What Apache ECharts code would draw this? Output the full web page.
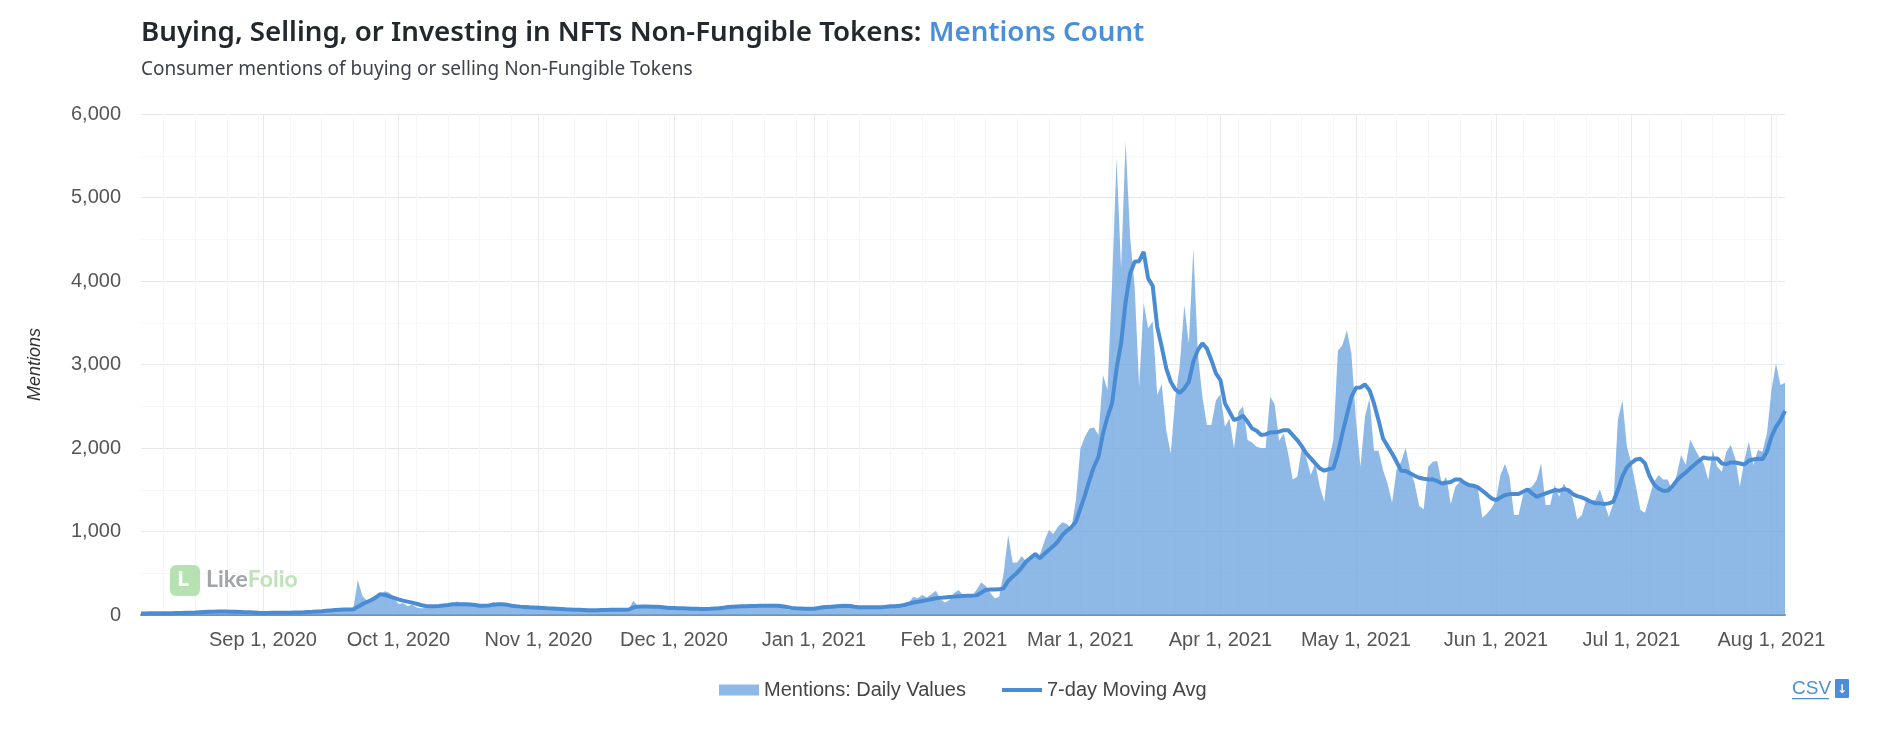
<!DOCTYPE html>
<html>
<head>
<meta charset="utf-8">
<style>html,body{margin:0;padding:0;background:#fff}#c{width:1879px;height:748px}</style>
<script src="https://cdn.jsdelivr.net/npm/echarts@6/dist/echarts.min.js"></script>
</head>
<body>
<div id="c"></div>
<script>
const startDate = [2020, 7, 5];
const yTicks = [0, 1000, 2000, 3000, 4000, 5000, 6000];
const monthTicks = [[2020,8],[2020,9],[2020,10],[2020,11],[2021,0],[2021,1],[2021,2],[2021,3],[2021,4],[2021,5],[2021,6],[2021,7]];
const monthNames = ['Jan','Feb','Mar','Apr','May','Jun','Jul','Aug','Sep','Oct','Nov','Dec'];

const dailyAug20 = [18,20,22,24,22,20,21,23,25,28,30,32,35,42,45,40,42,44,40,38,36,34,30,28,25,24,22];
const dailySep20 = [22,24,25,26,28,30,30,32,35,38,42,48,55,60,62,70,65,68,70,66,72,420,230,175,165,200,245,285,265,210];
const dailyOct20 = [130,145,105,125,90,80,85,90,100,110,130,120,135,165,125,120,115,115,95,100,120,155,125,120,115,105,85,75,85,90,85];
const dailyNov20 = [85,80,78,80,78,72,70,68,66,65,64,60,58,60,62,64,62,60,62,65,70,170,110,105,100,95,85,75,80,78];
const dailyDec20 = [80,78,72,70,64,72,75,78,80,78,82,88,100,105,108,106,110,112,115,118,116,114,110,112,100,70,60,65,72,78,80];
const dailyJan21 = [76,85,110,115,112,110,112,120,115,80,75,82,85,88,90,95,100,110,110,120,130,150,220,200,240,210,250,290,190,150,180];
const dailyFeb21 = [260,300,240,240,230,300,390,350,270,200,220,500,958,630,630,706,640,660,746,720,880,1017,970,1057,1110,1090,1040,1376];
const dailyMar21 = [1995,2135,2234,2246,2155,2873,2693,3970,5466,4150,5678,4530,3930,2733,3739,3431,3519,2633,2765,2214,1935,2600,2990,3710,3252,4389,3132,2613,2274,2274,2573];
const dailyApr21 = [2645,2254,2354,1995,2434,2500,2095,2067,2015,2000,2000,2613,2525,2087,2175,1935,1624,1656,1995,1887,1676,1815,1536,1357,1855,2095,3164,3232,3411,3132];
const dailyMay21 = [2334,1776,2374,2593,1967,1967,1736,1576,1345,1736,1835,2003,1736,1576,1305,1265,1776,1835,1843,1576,1656,1329,1536,1596,1576,1556,1544,1516,1165,1217,1277];
const dailyJun21 = [1377,1676,1807,1656,1197,1197,1436,1516,1536,1616,1815,1317,1317,1556,1416,1576,1496,1397,1145,1197,1377,1357,1376,1504,1337,1177,1337,2334,2573,2015];
const dailyJul21 = [1815,1536,1257,1225,1416,1596,1676,1624,1624,1496,1676,1915,1796,2103,1995,1895,1815,1616,1975,1776,1716,1955,2035,1875,1536,1855,2075,1796,1975,1955,2175];
const dailyAug21 = [2693,3012,2753,2781];

const avgAug20 = [18,19,20,21,21,21,21,22,23,24,26,28,30,33,36,38,40,41,41,41,40,38,36,34,32,30,27];
const avgSep20 = [25,25,26,26,27,28,28,29,30,32,35,38,42,45,50,55,60,64,66,67,70,100,130,155,180,210,250,240,222,205];
const avgOct20 = [187,172,160,148,135,120,108,105,105,108,115,120,128,130,130,128,126,120,112,110,115,122,128,128,122,112,105,100,96,92,90];
const avgNov20 = [88,84,80,78,75,72,68,66,64,62,60,58,58,58,60,60,62,62,62,64,66,90,100,102,102,100,98,95,90,85];
const avgDec20 = [85,82,80,78,75,74,72,72,74,78,80,86,95,100,102,104,106,108,109,110,111,112,112,112,105,95,85,80,78,76,76];
const avgJan21 = [76,84,92,96,100,104,108,112,108,98,94,92,92,92,92,94,98,105,106,112,120,135,150,158,168,178,188,200,205,210,215];
const avgFeb21 = [220,225,228,230,232,235,265,300,305,305,307,320,407,459,507,567,640,686,730,678,730,778,826,878,958,1010,1050,1117];
const avgMar21 = [1277,1436,1616,1776,1895,2174,2374,2534,2953,3252,3751,4090,4230,4237,4349,4030,3942,3451,3212,2953,2793,2701,2661,2713,2793,3032,3172,3252,3192,3052,2893];
const avgApr21 = [2813,2534,2434,2334,2354,2386,2314,2234,2206,2155,2163,2186,2190,2195,2214,2214,2155,2095,2023,1935,1875,1815,1756,1728,1748,1756,1935,2175,2394,2613];
const avgMay21 = [2721,2725,2761,2693,2534,2334,2115,2023,1935,1835,1728,1724,1696,1668,1644,1632,1624,1624,1604,1576,1584,1592,1624,1624,1584,1556,1548,1528,1488,1444,1397];
const avgJun21 = [1377,1408,1436,1448,1448,1448,1476,1504,1456,1416,1436,1456,1476,1496,1488,1508,1496,1448,1424,1408,1385,1357,1337,1337,1329,1337,1357,1496,1664,1768];
const avgJul21 = [1823,1863,1871,1815,1664,1564,1516,1488,1488,1536,1608,1664,1704,1756,1803,1847,1887,1875,1875,1875,1815,1807,1827,1827,1815,1803,1847,1863,1871,1867,1955];
const avgAug21 = [2135,2254,2334,2446];

const dailyValues = [].concat(dailyAug20,dailySep20,dailyOct20,dailyNov20,dailyDec20,dailyJan21,dailyFeb21,dailyMar21,dailyApr21,dailyMay21,dailyJun21,dailyJul21,dailyAug21);
const avgValues = [].concat(avgAug20,avgSep20,avgOct20,avgNov20,avgDec20,avgJan21,avgFeb21,avgMar21,avgApr21,avgMay21,avgJun21,avgJul21,avgAug21);

const dayTime = i => new Date(startDate[0], startDate[1], startDate[2] + i).getTime();
const monthValues = monthTicks.map(m => new Date(m[0], m[1], 1).getTime());
const weekValues = [];
for (let i = 5; i < dailyValues.length; i += 7) weekValues.push(dayTime(i));

const AXIS_FONT = '"Liberation Sans", Arial, sans-serif';
const TITLE_FONT = '"Noto Sans", Lato, sans-serif';
const xMin = dayTime(0), xMax = dayTime(dailyValues.length - 1);

const chart = echarts.init(document.getElementById('c'), null, {renderer:'canvas'});
chart.setOption({
  animation: false,
  backgroundColor: '#fff',
  title: [{
    left: 141, top: 19, padding: 0,
    text: '{a|Buying, Selling, or Investing in NFTs Non-Fungible Tokens: }{b|Mentions Count}',
    textStyle: { rich: {
      a: {fontFamily: TITLE_FONT, fontSize: 27.7, fontWeight: 600, color: '#23282f'},
      b: {fontFamily: TITLE_FONT, fontSize: 27.7, fontWeight: 600, color: '#4a8fd8'}
    }}
  },{
    left: 141, top: 60, padding: 0,
    text: 'Consumer mentions of buying or selling Non-Fungible Tokens',
    textStyle: {fontFamily: TITLE_FONT, fontSize: 19, fontWeight: 400, color: '#3e434a'}
  }],
  grid: {left: 141, right: 94, top: 114, bottom: 133, containLabel: false},
  legend: [{
    left: 719, top: 680, padding: 0, itemWidth: 40, itemHeight: 11, icon: 'rect',
    data: ['Mentions: Daily Values'],
    textStyle: {fontFamily: AXIS_FONT, fontSize: 20, color: '#444'}
  },{
    left: 1002, top: 680, padding: 0, itemWidth: 40, itemHeight: 4, icon: 'rect',
    data: ['7-day Moving Avg'],
    textStyle: {fontFamily: AXIS_FONT, fontSize: 20, color: '#444'}
  }],
  xAxis: [{
    type: 'value', min: xMin, max: xMax, scale: true,
    axisLine: {show: true, onZero: true, lineStyle: {color: '#8a8d92', width: 2}},
    axisTick: {show: false, customValues: monthValues},
    axisLabel: {
      customValues: monthValues, margin: 15, hideOverlap: false,
      fontFamily: AXIS_FONT, fontSize: 20, color: '#555',
      formatter: v => { const d = new Date(v); return monthNames[d.getMonth()] + ' ' + d.getDate() + ', ' + d.getFullYear(); }
    },
    splitLine: {show: true, lineStyle: {color: '#e9eaec', width: 1}}
  },{
    type: 'value', min: xMin, max: xMax, scale: true, position: 'bottom',
    axisLine: {show: false},
    axisTick: {show: false, customValues: weekValues},
    axisLabel: {show: false, customValues: weekValues},
    splitLine: {show: true, lineStyle: {color: '#f5f6f7', width: 1}}
  }],
  yAxis: {
    type: 'value', min: yTicks[0], max: yTicks[yTicks.length - 1], interval: 1000,
    name: 'Mentions', nameLocation: 'middle', nameGap: 97, nameRotate: 90,
    nameTextStyle: {fontFamily: AXIS_FONT, fontStyle: 'italic', fontSize: 18, color: '#333'},
    axisLine: {show: false}, axisTick: {show: false},
    axisLabel: {margin: 20, fontFamily: AXIS_FONT, fontSize: 20, color: '#555',
      formatter: v => v.toLocaleString('en-US')},
    splitLine: {show: true, lineStyle: {color: '#e6e7e9', width: 1}},
    minorTick: {show: false, splitNumber: 2},
    minorSplitLine: {show: true, lineStyle: {color: '#f5f6f7', width: 1}}
  },
  series: [{
    name: 'Mentions: Daily Values', type: 'line', xAxisIndex: 0, showSymbol: false, symbol: 'none',
    data: dailyValues.map((v, i) => [dayTime(i), v]),
    lineStyle: {width: 0, opacity: 0},
    itemStyle: {color: '#8db8e7'},
    areaStyle: {color: '#6ea5e0', opacity: 0.78},
    z: 2
  },{
    name: '7-day Moving Avg', type: 'line', xAxisIndex: 0, showSymbol: false, symbol: 'none',
    data: avgValues.map((v, i) => [dayTime(i), v]),
    lineStyle: {width: 4, color: '#4a8cd4'},
    itemStyle: {color: '#4a8cd4'},
    z: 3
  }],
  graphic: [
    {type:'rect', left:170, top:565, z:1, shape:{width:30,height:31,r:6}, style:{fill:'#a9dca3', opacity:0.85}},
    {type:'text', left:177, top:569, z:1, style:{text:'L', fill:'#fff', font:'bold 22px "Noto Sans", sans-serif'}},
    {type:'text', left:206, top:568, z:1, style:{text:'{l|Like}{f|Folio}', rich:{
      l:{fill:'#a3a6a8', font:'bold 23px Lato, sans-serif', fontSize:23, fontWeight:'bold', fontFamily:'Lato'},
      f:{fill:'#bfe3b9', font:'bold 23px Lato, sans-serif', fontSize:23, fontWeight:'bold', fontFamily:'Lato'}}}},
    {type:'text', left:1792, top:679, style:{text:'CSV', fill:'#4a8fd8', font:'19px "Liberation Sans", Arial, sans-serif'}},
    {type:'rect', left:1792, top:698, shape:{width:37,height:1.3}, style:{fill:'#4a8fd8'}},
    {type:'rect', left:1835, top:679, shape:{width:14,height:19,r:1}, style:{fill:'#4a8fd8'}},
    {type:'text', left:1837, top:684, style:{text:'↓', fill:'#fff', font:'bold 12px "DejaVu Sans", sans-serif'}}
  ]
});
</script>
</body>
</html>
